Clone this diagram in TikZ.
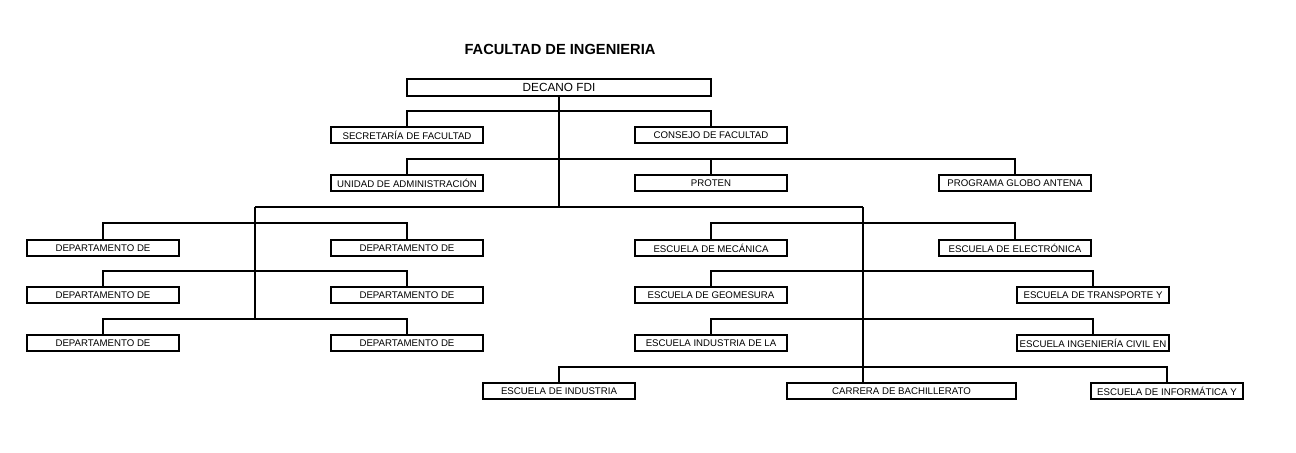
\documentclass[tikz,border=0pt]{standalone}
\usepackage{fontspec}
\setmainfont{Liberation Sans}
\usetikzlibrary{positioning}

\begin{document}
\begin{tikzpicture}[x=0.02cm, y=-0.02cm,
    every node/.style={font=\fontsize{5.5}{6}\selectfont},
    box/.style={draw, line width=1.2pt, inner sep=0pt, minimum width=3.04cm, minimum height=0.32cm},
    link/.style={line width=1.2pt}]
        \useasboundingbox (0,0) rectangle (1296,453);
        \node[font=\fontsize{8.35}{10}\selectfont\bfseries] (titulo) at (560,49) {FACULTAD DE INGENIERIA};
        \node[box, minimum width=6.08cm, minimum height=0.34cm, font=\fontsize{6.7}{8}\selectfont] (decano) at (559,87.5) {DECANO FDI};
        \node[box] (secre) at (407,135) {SECRETARÍA DE FACULTAD};
        \node[box] (consejo) at (711,135) {CONSEJO DE FACULTAD};
        \node[box] (unidad) at (407,183) {UNIDAD DE ADMINISTRACIÓN};
        \node[box] (proten) at (711,183) {PROTEN};
        \node[box] (globo) at (1015,183) {PROGRAMA GLOBO ANTENA};
        % departamentos
        \node[box] (dep1) at (103,248) {DEPARTAMENTO DE};
        \node[box] (dep2) at (407,248) {DEPARTAMENTO DE};
        \node[box] (dep3) at (103,295) {DEPARTAMENTO DE};
        \node[box] (dep4) at (407,295) {DEPARTAMENTO DE};
        \node[box] (dep5) at (103,343) {DEPARTAMENTO DE};
        \node[box] (dep6) at (407,343) {DEPARTAMENTO DE};
        % escuelas
        \node[box] (mecanica) at (711,248) {ESCUELA DE MECÁNICA};
        \node[box] (electronica) at (1015,248) {ESCUELA DE ELECTRÓNICA};
        \node[box] (geomesura) at (711,295) {ESCUELA DE GEOMESURA};
        \node[box] (transporte) at (1093,295) {ESCUELA DE TRANSPORTE Y};
        \node[box] (induslab) at (711,343) {ESCUELA INDUSTRIA DE LA};
        \node[box] (civil) at (1093,343) {ESCUELA INGENIERÍA CIVIL EN};
        \node[box] (industria) at (559,391) {ESCUELA DE INDUSTRIA};
        \node[box, minimum width=4.58cm] (bachi) at (901.5,391) {CARRERA DE BACHILLERATO};
        \node[box] (informatica) at (1167,391) {ESCUELA DE INFORMÁTICA Y};
        % puntos de union
        \coordinate (j1) at (559,111);
        \coordinate (j2) at (559,159);
        \coordinate (tc) at (559,207);
        \coordinate (tl) at (255,207);
        \coordinate (tr) at (863,207);
        \coordinate (l1) at (255,223);
        \coordinate (l2) at (255,271);
        \coordinate (l3) at (255,319);
        \coordinate (r1) at (863,223);
        \coordinate (r2) at (863,271);
        \coordinate (r3) at (863,319);
        \coordinate (rb) at (863,367);
        % conectores
        \draw[link] (decano.south) -- (tc);
        \draw[link] (secre.north) |- (j1) -| (consejo.north);
        \draw[link] (unidad.north) |- (j2) -| (globo.north);
        \draw[link] (j2 -| proten.north) -- (proten.north);
        \draw[link] (tl) -- (tr);
        \draw[link] (tl) -- (l3);
        \draw[link] (dep1.north) |- (l1) -| (dep2.north);
        \draw[link] (dep3.north) |- (l2) -| (dep4.north);
        \draw[link] (dep5.north) |- (l3) -| (dep6.north);
        \draw[link] (tr) -- (rb);
        \draw[link] (mecanica.north) |- (r1) -| (electronica.north);
        \draw[link] (geomesura.north) |- (r2) -| (transporte.north);
        \draw[link] (induslab.north) |- (r3) -| (civil.north);
        \draw[link] (industria.north) |- (rb) -| (informatica.north);
        \draw[link] (rb) -- (rb |- bachi.north);
      \end{tikzpicture}
\end{document}
